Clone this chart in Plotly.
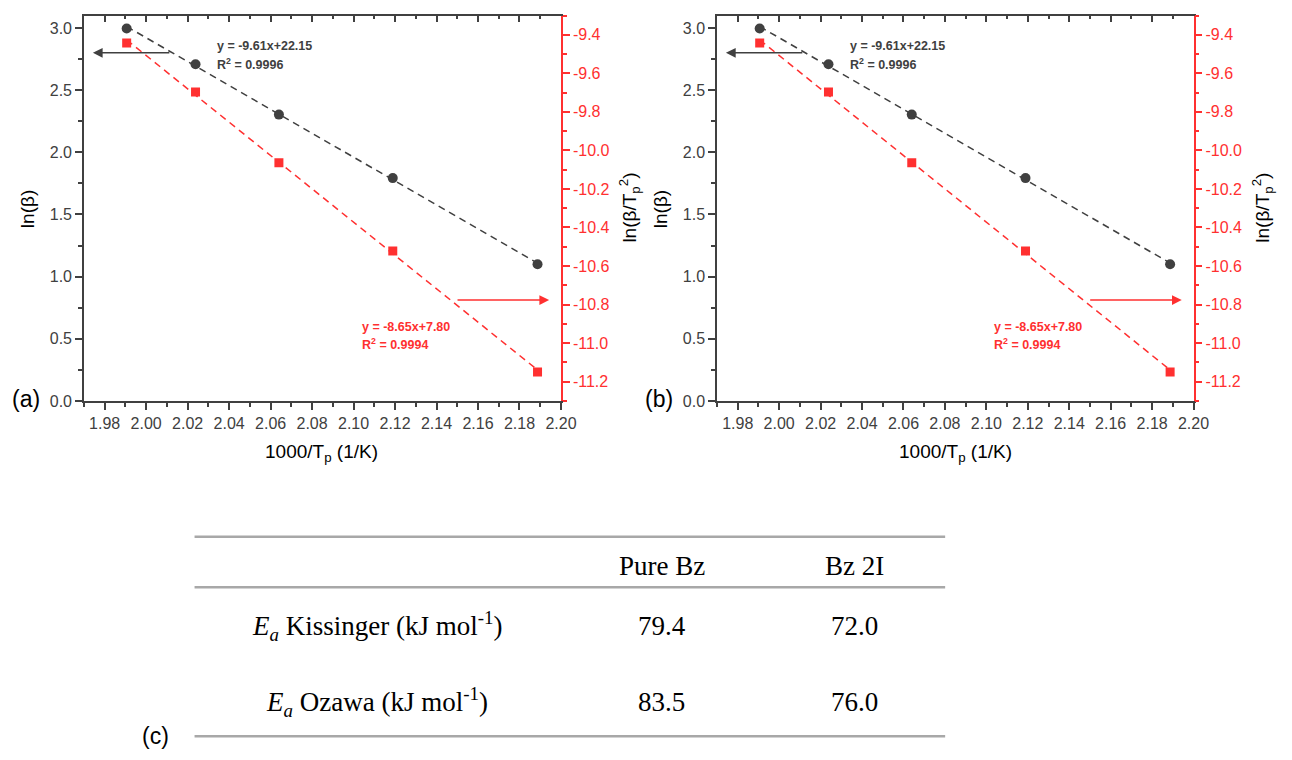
import numpy as np
import plotly.graph_objects as go

# ---------------- data ----------------
inv_tp = [1.9906, 2.0238, 2.0640, 2.1189, 2.1887]          # 1000/Tp (1/K)
ln_beta = [2.996, 2.708, 2.303, 1.792, 1.099]              # ln(beta)
ln_beta_tp2 = [-9.443, -9.697, -10.064, -10.522, -11.150]  # ln(beta/Tp^2)
right_ticks = [-9.4, -9.6, -9.8, -10.0, -10.2, -10.4, -10.6, -10.8, -11.0, -11.2]
fit_black_text = ["y = -9.61x+22.15", "R<sup>2</sup> = 0.9996"]
fit_red_text = ["y = -8.65x+7.80", "R<sup>2</sup> = 0.9994"]
panel_labels = ["(a)", "(b)"]
table_cols = ["Pure Bz", "Bz 2I"]
table_rows = ["<i>E<sub>a</sub></i> Kissinger (kJ mol<sup>-1</sup>)",
              "<i>E<sub>a</sub></i> Ozawa (kJ mol<sup>-1</sup>)"]
table_vals = [["79.4", "72.0"], ["83.5", "76.0"]]

W, H = 1292, 760
GRAY = "#404040"
RED = "#ff3030"
FONT = "Liberation Sans, Arial, sans-serif"
SERIF = "Liberation Serif, Times New Roman, serif"

XR = [1.97, 2.20]
YL = [0.0, 3.1]
YR = [-11.3, -9.3]


def px(x):
    return x / W


def py(y):
    return 1 - y / H


fig = go.Figure()
layout = dict(width=W, height=H, margin=dict(l=0, r=0, t=0, b=0),
              paper_bgcolor="white", plot_bgcolor="white", showlegend=False,
              annotations=[], shapes=[])

panels = [(85, 568), (726, 1208.5)]
ytop, ybot = 15.7, 405.7

xs = np.array(inv_tp)
kb = np.polyfit(xs, ln_beta, 1)
kr = np.polyfit(xs, ln_beta_tp2, 1)
xl = np.array([xs.min(), xs.max()])

for i, (x0, x1) in enumerate(panels):
    n = i * 3
    xa = "x" + ("" if n == 0 else str(n + 1))
    xt = "x" + str(n + 2)
    ya = "y" + ("" if n == 0 else str(n + 1))
    yr = "y" + str(n + 2)
    xk = "xaxis" + ("" if n == 0 else str(n + 1))
    xtk = "xaxis" + str(n + 2)
    yk = "yaxis" + ("" if n == 0 else str(n + 1))
    yrk = "yaxis" + str(n + 2)
    dom_x = [px(x0), px(x1)]
    dom_y = [py(ybot), py(ytop)]

    layout[xk] = dict(domain=dom_x, range=XR, anchor=ya, side="bottom",
                      showgrid=False, zeroline=False, showline=True,
                      linecolor=GRAY, linewidth=1.5, ticks="outside",
                      ticklen=7, tickwidth=1.5, tickcolor=GRAY,
                      tick0=1.98, dtick=0.02, tickformat=".2f",
                      tickfont=dict(family=FONT, size=16, color=GRAY),
                      minor=dict(ticks="outside", ticklen=4, dtick=0.01,
                                 tick0=1.97, tickcolor=GRAY, tickwidth=1.5))
    layout[xtk] = dict(domain=dom_x, range=XR, anchor=ya, overlaying=xa,
                       side="top", showgrid=False, zeroline=False,
                       showline=True, linecolor=GRAY, linewidth=1.5,
                       ticks="inside", ticklen=7, tickwidth=1.5,
                       tickcolor=GRAY, tick0=1.98, dtick=0.02,
                       showticklabels=False,
                       minor=dict(ticks="inside", ticklen=4, dtick=0.01,
                                  tick0=1.97, tickcolor=GRAY, tickwidth=1.5))
    layout[yk] = dict(domain=dom_y, range=YL, anchor=xa, side="left",
                      showgrid=False, zeroline=False, showline=True,
                      linecolor=GRAY, linewidth=1.5, ticks="outside",
                      ticklen=7, tickwidth=1.5, tickcolor=GRAY,
                      tick0=0, dtick=0.5, tickformat=".1f",
                      tickfont=dict(family=FONT, size=16, color=GRAY),
                      minor=dict(ticks="outside", ticklen=4, dtick=0.25,
                                 tickcolor=GRAY, tickwidth=1.5))
    layout[yrk] = dict(domain=dom_y, range=YR, anchor=xa, overlaying=ya,
                       side="right", showgrid=False, zeroline=False,
                       showline=True, linecolor=RED, linewidth=1.5,
                       ticks="outside", ticklen=7, tickwidth=1.5,
                       tickcolor=RED, tickmode="array",
                       tickvals=right_ticks,
                       ticktext=["%.1f" % v for v in right_ticks],
                       tickfont=dict(family=FONT, size=16, color=RED),
                       minor=dict(ticks="outside", ticklen=4, dtick=0.1,
                                  tick0=-11.3, tickcolor=RED, tickwidth=1.5))

    # invisible trace on top axis
    fig.add_trace(go.Scatter(x=XR, y=YL, xaxis=xt, yaxis=ya, mode="markers",
                             marker=dict(opacity=0), hoverinfo="skip"))
    # fit lines
    fig.add_trace(go.Scatter(x=xl, y=np.polyval(kb, xl), xaxis=xa, yaxis=ya,
                             mode="lines",
                             line=dict(color=GRAY, width=1.5, dash="7px,5px")))
    fig.add_trace(go.Scatter(x=xl, y=np.polyval(kr, xl), xaxis=xa, yaxis=yr,
                             mode="lines",
                             line=dict(color=RED, width=1.5, dash="7px,5px")))
    # points
    fig.add_trace(go.Scatter(x=inv_tp, y=ln_beta, xaxis=xa, yaxis=ya,
                             mode="markers",
                             marker=dict(symbol="circle", size=10, color=GRAY)))
    fig.add_trace(go.Scatter(x=inv_tp, y=ln_beta_tp2, xaxis=xa, yaxis=yr,
                             mode="markers",
                             marker=dict(symbol="square", size=9, color=RED)))

    ann = layout["annotations"]
    # arrows
    ann.append(dict(x=1.9743, y=2.80, ax=2.0119, ay=2.80, xref=xa, yref=ya,
                    axref=xa, ayref=ya, showarrow=True, arrowhead=2,
                    arrowsize=1.3, arrowwidth=1.5, arrowcolor=GRAY, text=""))
    ann.append(dict(x=2.1943, y=-10.777, ax=2.1494, ay=-10.777, xref=xa,
                    yref=yr, axref=xa, ayref=yr, showarrow=True, arrowhead=2,
                    arrowsize=1.3, arrowwidth=1.5, arrowcolor=RED, text=""))
    # fit texts
    for t, yy in zip(fit_black_text, [2.852, 2.712]):
        ann.append(dict(x=2.0332, y=yy, xref=xa, yref=ya, text="<b>%s</b>" % t,
                        showarrow=False, xanchor="left", yanchor="middle",
                        font=dict(family=FONT, size=12.5, color=GRAY)))
    for t, yy in zip(fit_red_text, [-10.914, -11.005]):
        ann.append(dict(x=2.1029, y=yy, xref=xa, yref=yr, text="<b>%s</b>" % t,
                        showarrow=False, xanchor="left", yanchor="middle",
                        font=dict(family=FONT, size=12.5, color=RED)))
    off = x0 - 85
    # axis titles
    ann.append(dict(x=px(28 + off), y=py(212), xref="paper", yref="paper",
                    xanchor="center", yanchor="middle",
                    text="ln(β)", textangle=-90, showarrow=False,
                    font=dict(family=FONT, size=19, color="black")))
    ann.append(dict(x=px(637 + off), y=py(210), xref="paper", yref="paper",
                    xanchor="center", yanchor="middle",
                    text="ln(β/T<sub>p</sub><sup>2</sup>)", textangle=-90,
                    showarrow=False,
                    font=dict(family=FONT, size=19, color="black")))
    ann.append(dict(x=px(326 + off), y=py(458), xref="paper", yref="paper",
                    xanchor="center", yanchor="middle",
                    text="1000/T<sub>p</sub> (1/K)", showarrow=False,
                    font=dict(family=FONT, size=19, color="black")))
    ann.append(dict(x=px(26 + off), y=py(404), xref="paper", yref="paper",
                    xanchor="center", yanchor="middle",
                    text=panel_labels[i], showarrow=False,
                    font=dict(family=FONT, size=23, color="black")))

# ---------------- table (c) ----------------
for yline in [543.3, 594.3, 745]:
    layout["shapes"].append(dict(type="line", xref="paper", yref="paper",
                                 x0=px(197), x1=px(957), y0=py(yline),
                                 y1=py(yline),
                                 line=dict(color="#a8a8a8", width=2.5)))
col_x = [670, 865]
row_y = [634, 710]
for cx, c in zip(col_x, table_cols):
    layout["annotations"].append(dict(x=px(cx), y=py(573), xref="paper",
                                      yref="paper", text=c, showarrow=False,
                                      xanchor="center", yanchor="middle",
                                      font=dict(family=SERIF, size=27,
                                                color="black")))
for ry, r, vals in zip(row_y, table_rows, table_vals):
    layout["annotations"].append(dict(x=px(382), y=py(ry), xref="paper",
                                      yref="paper", text=r, showarrow=False,
                                      xanchor="center", yanchor="middle",
                                      font=dict(family=SERIF, size=27,
                                                color="black")))
    for cx, v in zip(col_x, vals):
        layout["annotations"].append(dict(x=px(cx), y=py(ry), xref="paper",
                                          yref="paper", text=v,
                                          showarrow=False,
                                          xanchor="center", yanchor="middle",
                                          font=dict(family=SERIF, size=27,
                                                    color="black")))
layout["annotations"].append(dict(x=px(157), y=py(745), xref="paper",
                                  yref="paper", text="(c)", showarrow=False,
                                  xanchor="center", yanchor="middle",
                                  font=dict(family=FONT, size=23,
                                            color="black")))

fig.update_layout(**layout)
fig.write_html("out.html")
